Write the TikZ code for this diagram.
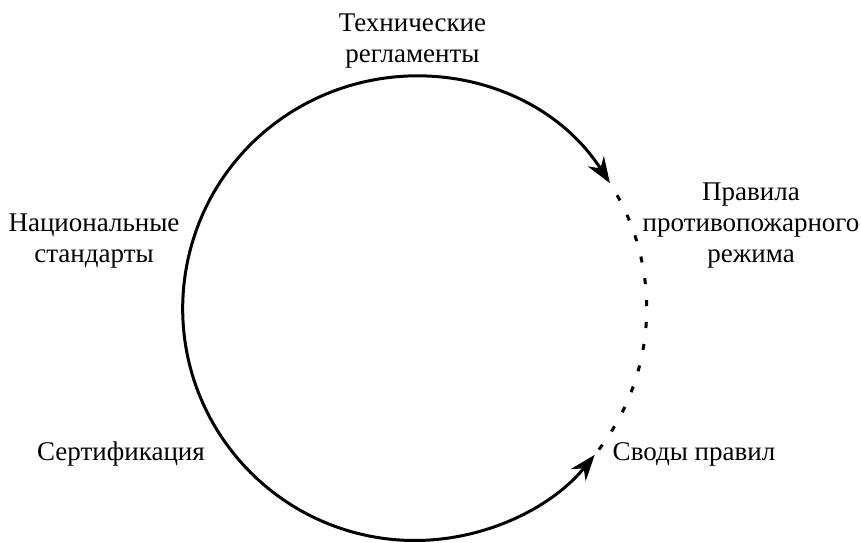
\documentclass[tikz,border=0pt]{standalone}
\usepackage{fontspec}
\setmainfont{Liberation Serif}
\usetikzlibrary{arrows.meta,calc}

\begin{document}
\begin{tikzpicture}[x=1pt,y=1pt,
  lbl/.style={inner sep=0pt,align=center,font=\fontsize{27}{31}\selectfont},
  ring/.style={line width=3pt}]
\useasboundingbox (0,0) rectangle (861,542);
\coordinate (c) at (414.7,233.5);
\coordinate (top) at ($(c)+(32.7:232)$);
\coordinate (bot) at ($(c)+(-39.1:232)$);
% solid part with both heads
\draw[ring,{Stealth[length=26pt,width=19pt]}-{Stealth[length=26pt,width=19pt]}] (top) arc (32.7:320.9:232);
% dotted part
\draw[ring,dash pattern=on 6pt off 16pt,dash phase=8pt] (top) arc (32.7:-39.1:232);
\node[lbl,anchor=base] (tech) at (412.5,479) {Технические\\регламенты};
\node[lbl,anchor=base] (rules) at (751,280) {Правила\\противопожарного\\режима};
\node[lbl,anchor=base] (natl) at (94,280) {Национальные\\стандарты};
\node[lbl,anchor=base] (cert) at (121,82) {Сертификация};
\node[lbl,anchor=base] (codes) at (694,82) {Своды правил};
\end{tikzpicture}
\end{document}
